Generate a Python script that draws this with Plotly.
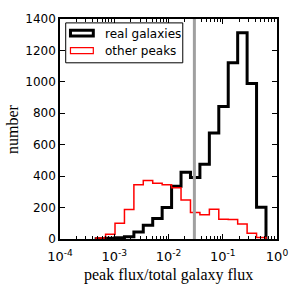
import plotly.graph_objects as go

# ---- data ----
bin_edges_log10 = [-3.334, -3.160, -2.986, -2.812, -2.638, -2.465, -2.291, -2.117,
                   -1.943, -1.769, -1.595, -1.421, -1.247, -1.073, -0.899, -0.725,
                   -0.551, -0.377, -0.203]
real_galaxies = [2, 5, 8, 15, 45, 87, 130, 200, 336, 425, 392, 476, 675, 843,
                 1122, 1313, 990, 202]
other_peaks = [6, 31, 100, 187, 345, 372, 355, 345, 326, 248, 168, 155, 190, 126,
               124, 95, 37, 10]
cut_value = 0.03
x_tick_vals = [1e-4, 1e-3, 1e-2, 1e-1, 1e0]
x_tick_text = ["10<sup>-4</sup>", "10<sup>-3</sup>", "10<sup>-2</sup>",
               "10<sup>-1</sup>", "10<sup>0</sup>"]
y_tick_vals = [0, 200, 400, 600, 800, 1000, 1200, 1400]
series_names = ["real galaxies", "other peaks"]

edges = [10 ** e for e in bin_edges_log10]


def step_outline(edges, counts):
    xs, ys = [edges[0]], [0]
    for i, c in enumerate(counts):
        xs += [edges[i], edges[i + 1]]
        ys += [c, c]
    xs.append(edges[-1])
    ys.append(0)
    return xs, ys


fig = go.Figure()
xr, yr = step_outline(edges, real_galaxies)
fig.add_trace(go.Scatter(x=xr, y=yr, mode="lines", line=dict(color="black", width=3),
                         name=series_names[0], showlegend=False))
xo, yo = step_outline(edges, other_peaks)
fig.add_trace(go.Scatter(x=xo, y=yo, mode="lines", line=dict(color="red", width=1.5),
                         name=series_names[1], showlegend=False))

# vertical cut line
fig.add_shape(type="line", xref="x", yref="paper", x0=cut_value, x1=cut_value,
              y0=0, y1=1, line=dict(color="#a0a0a0", width=3), layer="above")

# manual legend (pixel positions converted to paper coords)
L, R, T, B = 60, 288, 13, 239
W, H = R - L, B - T


def px(x):
    return (x - L) / W


def py(y):
    return (B - y) / H


fig.add_shape(type="rect", xref="paper", yref="paper", x0=px(66), x1=px(189),
              y0=py(58), y1=py(17), line=dict(color="black", width=1),
              fillcolor="white", layer="above")
fig.add_shape(type="rect", xref="paper", yref="paper", x0=px(71), x1=px(95),
              y0=py(30.5), y1=py(24.5), line=dict(color="black", width=3), layer="above")
fig.add_shape(type="rect", xref="paper", yref="paper", x0=px(71), x1=px(95),
              y0=py(48.5), y1=py(42.5), line=dict(color="red", width=1.2), layer="above")
for name, yc in zip(series_names, [28.5, 46]):
    fig.add_annotation(xref="paper", yref="paper", x=px(105), y=py(yc), text=name,
                       showarrow=False, xanchor="left", yanchor="middle",
                       font=dict(family="DejaVu Sans", size=12, color="black"))

# axis titles
fig.add_annotation(xref="paper", yref="paper", x=0.5, y=0, yshift=-36,
                   text="peak flux/total galaxy flux", showarrow=False,
                   xanchor="center", yanchor="middle",
                   font=dict(family="Liberation Serif", size=16, color="black"))
fig.add_annotation(xref="paper", yref="paper", x=0, y=0.5, xshift=-48,
                   text="number", showarrow=False, textangle=-90,
                   xanchor="center", yanchor="middle",
                   font=dict(family="Liberation Serif", size=16, color="black"))

minor_vals = [k * 10 ** n for n in range(-4, 0) for k in range(2, 10)]

fig.update_xaxes(type="log", range=[-4, 0], tickvals=x_tick_vals, ticktext=x_tick_text,
                 ticks="inside", ticklen=5, tickwidth=1, tickcolor="black",
                 showline=True, linecolor="black", linewidth=1.5, mirror="allticks",
                 showgrid=False, zeroline=False, ticklabelstandoff=5,
                 minor=dict(tickvals=minor_vals, ticks="inside", ticklen=3,
                            tickcolor="black", showgrid=False),
                 tickfont=dict(family="DejaVu Sans", size=13, color="black"))
fig.update_yaxes(range=[0, 1400], tickvals=y_tick_vals, ticks="inside", ticklen=5,
                 tickwidth=1, tickcolor="black", showline=True, linecolor="black",
                 linewidth=1.5, mirror="allticks", showgrid=False, zeroline=False,
                 tickfont=dict(family="DejaVu Sans", size=12, color="black"))

fig.update_layout(width=300, height=300, margin=dict(l=60, r=12, t=13, b=61),
                  plot_bgcolor="white", paper_bgcolor="white", showlegend=False)

fig.write_html("out.html", config={"displayModeBar": False},
               post_script="document.body.style.margin='0';document.body.style.overflow='hidden';")
